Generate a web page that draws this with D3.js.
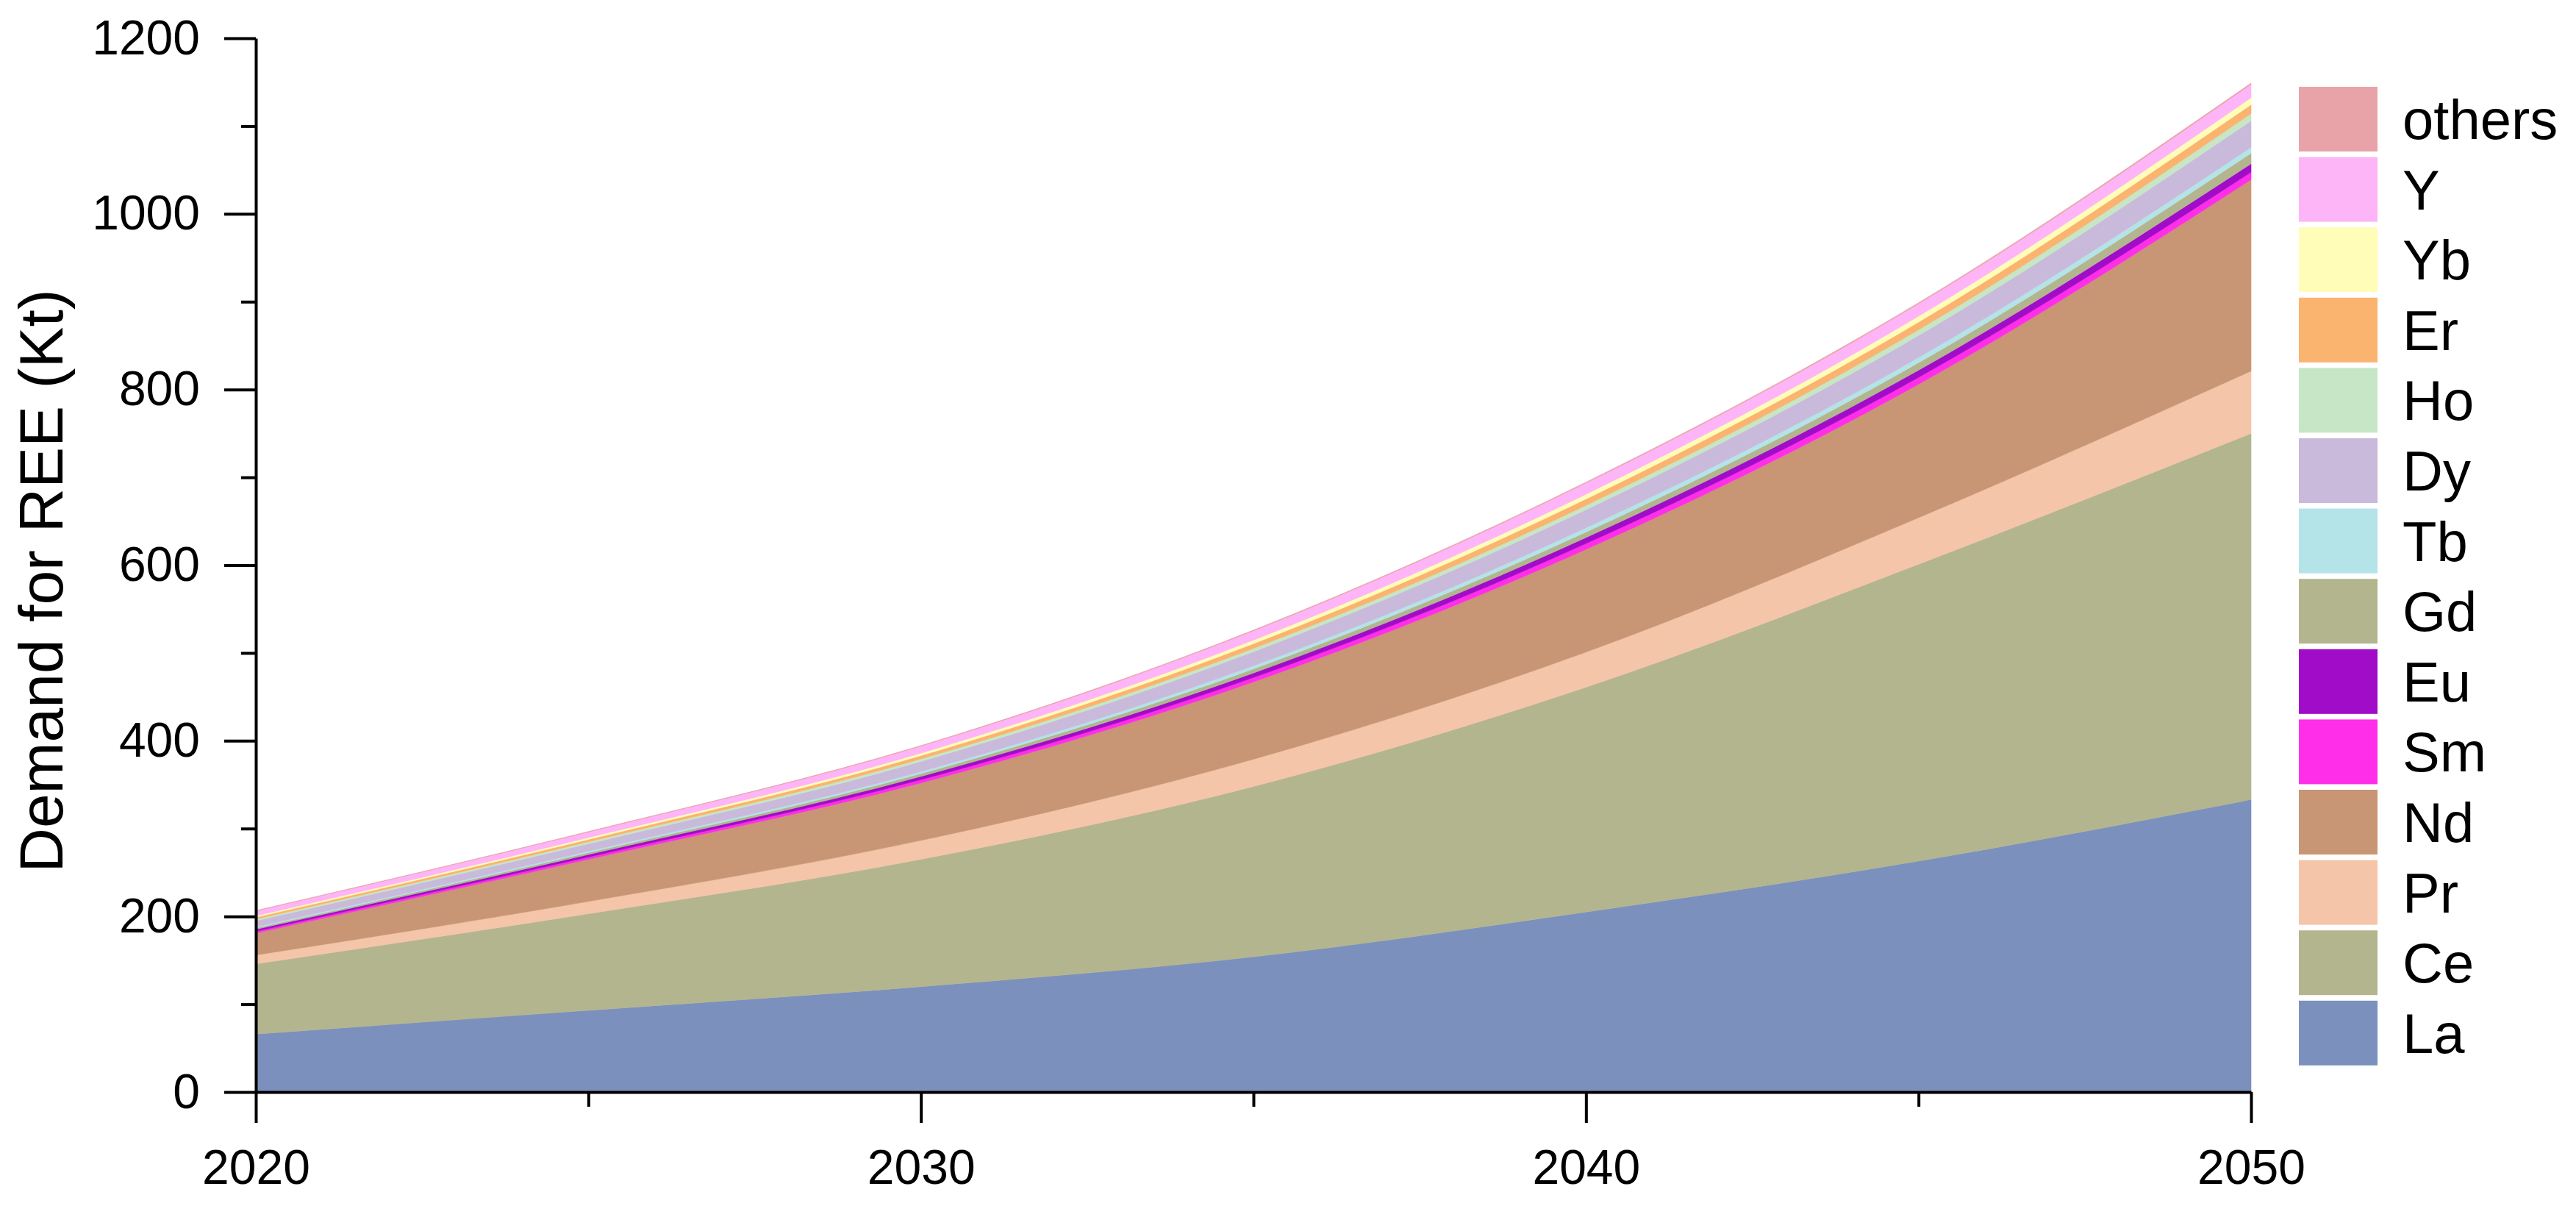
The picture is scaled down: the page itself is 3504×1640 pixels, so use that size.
<!DOCTYPE html>
<html>
<head>
<meta charset="utf-8">
<script src="https://cdn.jsdelivr.net/npm/d3@7"></script>
<style>
    body { margin: 0; background: #ffffff; }
    svg { display: block; }
</style>
</head>
<body>
<svg width="3504" height="1640"></svg>
<script>
// Demand for rare earth elements, stacked, every 5 years (Kt)
const years = [2020, 2025, 2030, 2035, 2040, 2045, 2050];

const La = [66, 93, 120, 154, 205, 263, 333];
const Ce = [80, 110, 145, 194, 256, 338, 417];
const Pr = [10, 14, 21.5, 31, 40, 53, 71];
const Nd = [25, 48, 65.5, 88, 117, 152, 218];
const Sm = [2.0, 2.6, 3.6, 5.0, 6.6, 7.8, 8.5];
const Eu = [2.2, 2.8, 3.8, 5.2, 6.8, 8.2, 9.5];
const Gd = [1.6, 2.2, 3.2, 4.6, 6.2, 8.5, 12];
const Tb = [1.2, 1.6, 2.4, 3.6, 5.0, 6.0, 6.8];
const Dy = [7.0, 8.5, 11.5, 16.0, 20.5, 25.0, 30.0];
const Ho = [1.8, 2.2, 2.8, 3.8, 5.0, 6.5, 8.3];
const Er = [2.2, 2.8, 3.8, 5.4, 7.2, 8.8, 10.3];
const Yb = [1.6, 2.0, 2.8, 4.0, 5.4, 6.6, 7.8];
const Y = [5.6, 6.4, 8.0, 10.6, 12.8, 14.2, 15.3];
const others = [0.4, 0.5, 0.6, 0.8, 1.0, 1.2, 1.4];

// stack order, bottom to top
const elements = ["La", "Ce", "Pr", "Nd", "Sm", "Eu", "Gd", "Tb", "Dy", "Ho", "Er", "Yb", "Y", "others"];
const series = {La, Ce, Pr, Nd, Sm, Eu, Gd, Tb, Dy, Ho, Er, Yb, Y, others};

const colours = {
    La: "#7b90bd", Ce: "#b3b58f", Pr: "#f5c5a9", Nd: "#c89674",
    Sm: "#ff2ee8", Eu: "#a00cc8", Gd: "#b3b58f", Tb: "#b4e3e8",
    Dy: "#c9b9da", Ho: "#c6e6c6", Er: "#fbb370", Yb: "#fffdb8",
    Y: "#fdb5f8", others: "#e8a3a8"
};

const majorYTicks = [0, 200, 400, 600, 800, 1000, 1200];
const minorYTicks = [100, 300, 500, 700, 900, 1100];
const majorXTicks = [2020, 2030, 2040, 2050];
const minorXTicks = [2025, 2035, 2045];

const font = "'Liberation Sans', Arial, sans-serif";

const plot = {left: 348, right: 3062, top: 52, bottom: 1485};

const svg = d3.select("svg");

const x = d3.scaleLinear().domain([2020, 2050]).range([plot.left, plot.right]);
const y = d3.scaleLinear().domain([0, 1200]).range([plot.bottom, plot.top]);

// rows for d3.stack
const rows = years.map(function (yr, i) {
    const row = {year: yr};
    elements.forEach(function (k) {
        row[k] = series[k][i];
    });
    return row;
});

const stacked = d3.stack().keys(elements)(rows);

const area = d3.area()
    .curve(d3.curveMonotoneX)
    .x(function (d) { return x(d.data.year); })
    .y0(function (d) { return y(d[0]); })
    .y1(function (d) { return y(d[1]); });

svg.append("g")
    .selectAll("path")
    .data(stacked)
    .enter()
    .append("path")
    .attr("d", area)
    .attr("fill", function (d) { return colours[d.key]; })
    .attr("stroke", function (d) { return colours[d.key]; })
    .attr("stroke-width", 0.6);

// axes
function styleAxis(g) {
    g.selectAll("path, line").attr("stroke", "#000").attr("stroke-width", 4);
    g.selectAll("text").attr("fill", "#000").style("font-family", font).style("font-size", "66px");
}

svg.append("g")
    .attr("transform", "translate(" + plot.left + ",0)")
    .call(d3.axisLeft(y).tickValues(minorYTicks).tickSize(20).tickFormat(""))
    .call(styleAxis)
    .call(function (g) { g.select(".domain").remove(); });

svg.append("g")
    .attr("transform", "translate(0," + plot.bottom + ")")
    .call(d3.axisBottom(x).tickValues(minorXTicks).tickSize(20).tickFormat(""))
    .call(styleAxis)
    .call(function (g) { g.select(".domain").remove(); });

svg.append("g")
    .attr("transform", "translate(" + plot.left + ",0)")
    .call(d3.axisLeft(y).tickValues(majorYTicks).tickSize(43).tickSizeOuter(0).tickPadding(33).tickFormat(d3.format("d")))
    .call(styleAxis);

svg.append("g")
    .attr("transform", "translate(0," + plot.bottom + ")")
    .call(d3.axisBottom(x).tickValues(majorXTicks).tickSize(42).tickSizeOuter(0).tickPadding(36).tickFormat(d3.format("d")))
    .call(styleAxis);

// y axis title
svg.append("text")
    .attr("transform", "translate(85,790) rotate(-90)")
    .attr("text-anchor", "middle")
    .style("font-family", font)
    .style("font-size", "84px")
    .attr("fill", "#000")
    .text("Demand for REE (Kt)");

// legend, top item is the top of the stack
const legend = svg.append("g")
    .selectAll("g")
    .data(elements.slice().reverse())
    .enter()
    .append("g")
    .attr("transform", function (d, i) {
        return "translate(3127," + (118 + i * 95.6) + ")";
    });

legend.append("rect")
    .attr("width", 107)
    .attr("height", 88)
    .attr("fill", function (d) { return colours[d]; });

legend.append("text")
    .attr("x", 141)
    .attr("y", 71)
    .style("font-family", font)
    .style("font-size", "76px")
    .attr("fill", "#000")
    .text(function (d) { return d; });
</script>
</body>
</html>
